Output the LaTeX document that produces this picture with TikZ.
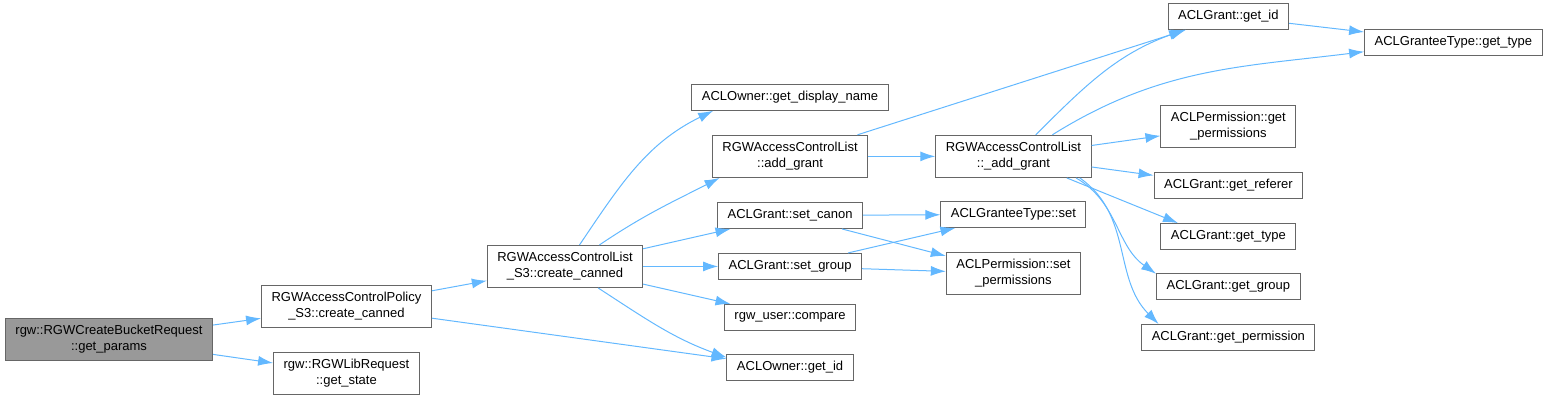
\documentclass[tikz,border=0pt]{standalone}
\usepackage{fontspec}
\setmainfont{Liberation Sans}
\usetikzlibrary{arrows.meta, positioning}
\definecolor{edgecolor}{RGB}{99,184,255}
\definecolor{boxborder}{RGB}{102,102,102}
\definecolor{rootcolor}{RGB}{153,153,153}
\tikzset{
    block/.style={rectangle, draw=boxborder, line width=1pt, fill=white,
        inner xsep=10pt, inner ysep=7pt, minimum height=26pt, align=center,
        font=\fontsize{13}{16}\selectfont},
    rootblock/.style={block, fill=rootcolor},
    arrow/.style={-{Latex[length=15pt,width=10pt]}, draw=edgecolor, line width=1pt}
}

\begin{document}
\begin{tikzpicture}[x=1pt, y=-1pt, node distance=24pt]

    \useasboundingbox (0,0) rectangle (1549,400);

    \node[rootblock] (getparams) at (109,339.5) {rgw::RGWCreateBucketRequest\\::get\_params};

    \node[block, above right=-10pt and 48pt of getparams] (policy) {RGWAccessControlPolicy\\\_S3::create\_canned};
    \node[block, below=of policy] (getstate) {rgw::RGWLibRequest\\::get\_state};

    \node[block, above right=-3pt and 55pt of policy] (cannedacl) {RGWAccessControlList\\\_S3::create\_canned};

    \node[block, right=75pt of cannedacl] (setgroup) {ACLGrant::set\_group};
    \node[block, above=of setgroup] (setcanon) {ACLGrant::set\_canon};
    \node[block, above=of setcanon] (addgrant) {RGWAccessControlList\\::add\_grant};
    \node[block, above=of addgrant] (displayname) {ACLOwner::get\_display\_name};
    \node[block, below=of setgroup] (compare) {rgw\_user::compare};
    \node[block, below=23pt of compare] (ownerid) {ACLOwner::get\_id};

    \node[block, right=67pt of addgrant] (addgrantint) {RGWAccessControlList\\::\_add\_grant};
    \node[block, below=23pt of addgrantint] (granteeset) {ACLGranteeType::set};
    \node[block, below=of granteeset] (setperms) {ACLPermission::set\\\_permissions};

    \node[block, below right=-6pt and 62pt of addgrantint] (getreferer) {ACLGrant::get\_referer};
    \node[block, above=of getreferer] (getperms) {ACLPermission::get\\\_permissions};
    \node[block, above=75pt of getperms] (grantid) {ACLGrant::get\_id};
    \node[block, below=of getreferer] (granttype) {ACLGrant::get\_type};
    \node[block, below=23pt of granttype] (grantgroup) {ACLGrant::get\_group};
    \node[block, below=of grantgroup] (grantperm) {ACLGrant::get\_permission};

    \node[block, below right=-1pt and 75pt of grantid] (granteetype) {ACLGranteeType::get\_type};

    \draw[arrow] (getparams) -- (policy);
    \draw[arrow] (getparams) -- (getstate);
    \draw[arrow] (policy) -- (cannedacl);
    \draw[arrow] (policy) -- (ownerid);
    \draw[arrow] (cannedacl.56) to[out=56, in=206] (displayname.190);
    \draw[arrow] (cannedacl.32) to[out=34, in=207] (addgrant.197);
    \draw[arrow] (cannedacl) -- (setcanon);
    \draw[arrow] (cannedacl) -- (setgroup);
    \draw[arrow] (cannedacl) -- (compare);
    \draw[arrow] (cannedacl.-33) to[out=-33, in=160] (ownerid.171);
    \draw[arrow] (addgrant) -- (grantid);
    \draw[arrow] (addgrant) -- (addgrantint);
    \draw[arrow] (setcanon) -- (granteeset);
    \draw[arrow] (setcanon) -- (setperms);
    \draw[arrow] (setgroup) -- (granteeset);
    \draw[arrow] (setgroup) -- (setperms);
    \draw[arrow] (addgrantint.44) to[out=45, in=200] (grantid.197);
    \draw[arrow] (addgrantint.29) to[out=32, in=187] (granteetype.186);
    \draw[arrow] (addgrantint) -- (getperms);
    \draw[arrow] (addgrantint) -- (getreferer);
    \draw[arrow] (addgrantint.-22) -- (granttype.165);
    \draw[arrow] (addgrantint.-19) to[out=-30, in=145] (grantgroup.170);
    \draw[arrow] (addgrantint.-18) to[out=-35, in=135] (grantperm.169);
    \draw[arrow] (grantid) -- (granteetype);

\end{tikzpicture}
\end{document}
